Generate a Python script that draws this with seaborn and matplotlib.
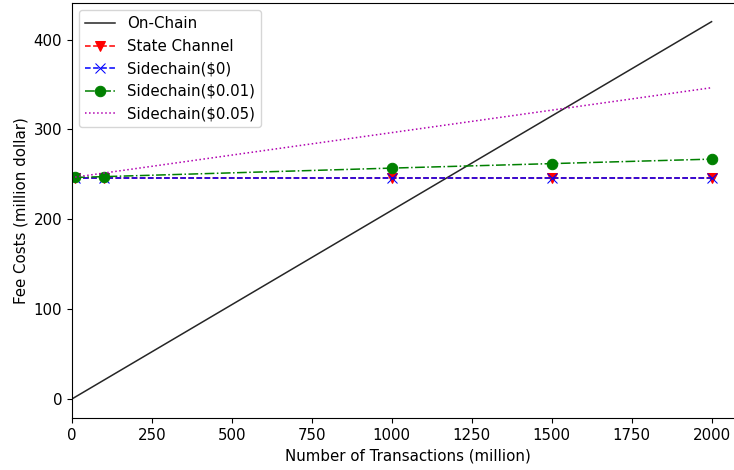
import matplotlib
matplotlib.use("Agg")
import matplotlib.pyplot as plt
import seaborn as sns
import pandas as pd

# Transactions (million) at which costs were evaluated
transactions = [10, 100, 1000, 1500, 2000]

# Fee costs (million dollar) per scheme
state_channel = [246.5, 246.5, 246.5, 246.5, 246.5]
sidechain_0 = [246.5, 246.5, 246.5, 246.5, 246.5]
sidechain_001 = [246.6, 247.5, 257, 262, 267]
sidechain_005 = [247, 251.5, 296.5, 321.5, 346.5]

on_chain_x = [0, 100, 1000, 1500, 2000]
on_chain_y = [0, 21, 210, 315, 420]

plt.rcParams["font.size"] = 10.8

fig = plt.figure(figsize=(7.34, 4.70), dpi=100)
ax = fig.add_axes([0.098, 0.111, 0.915, 0.883])

series = [
    ("On-Chain", on_chain_x, on_chain_y, dict(color="black", linestyle="-", marker=None, alpha=0.85)),
    ("State Channel", transactions, state_channel, dict(color="red", linestyle="--", marker="v", markersize=6.5)),
    ("Sidechain($0)", transactions, sidechain_0, dict(color="blue", linestyle="--", marker="x", markersize=6.5)),
    ("Sidechain($0.01)", transactions, sidechain_001, dict(color="green", linestyle="-.", marker="o", markersize=7.5)),
    ("Sidechain($0.05)", transactions, sidechain_005, dict(color="#b000b0", linestyle=":", marker=None)),
]

for label, xs, ys, style in series:
    df = pd.DataFrame({"x": xs, "y": ys})
    kw = dict(style)
    if kw.get("marker") is None:
        kw.pop("marker")
    sns.lineplot(data=df, x="x", y="y", ax=ax, label=label, linewidth=1.1,
                 markeredgecolor=style["color"], **kw)

ax.set_xlim(0, 2100)
ax.set_ylim(-21, 441)
ax.set_xticks([0, 250, 500, 750, 1000, 1250, 1500, 1750, 2000])
ax.set_yticks([0, 100, 200, 300, 400])
ax.set_xlabel("Number of Transactions (million)")
ax.set_ylabel("Fee Costs (million dollar)")
ax.legend(loc="upper left")

fig.savefig("out.png", dpi=100)
